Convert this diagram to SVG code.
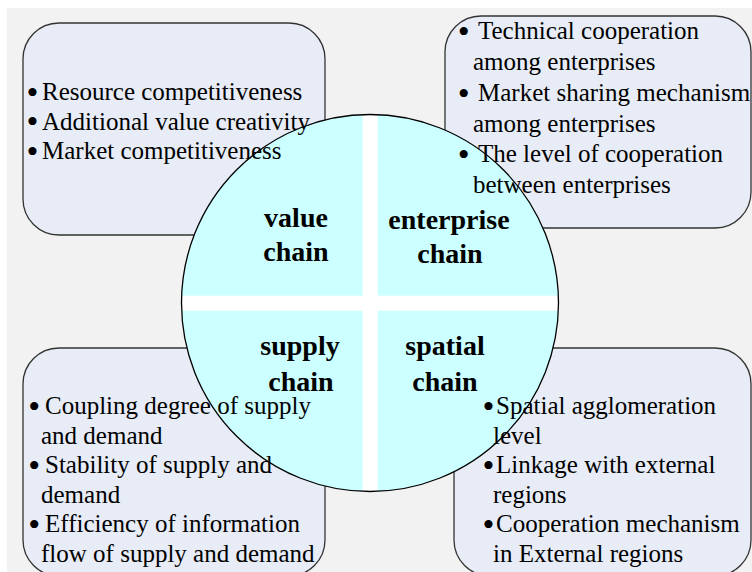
<svg xmlns="http://www.w3.org/2000/svg" width="752" height="572" viewBox="0 0 752 572">
<style>
.box{fill:#e7ecf6;stroke:#333;stroke-width:1.3}
.t{font-family:"Liberation Serif","Times New Roman",serif;font-size:25px;fill:#000}
.bl{font-size:34px}
.lbl{font-family:"Liberation Serif","Times New Roman",serif;font-size:28px;font-weight:bold;fill:#000;text-anchor:middle}
</style>
<defs>
<clipPath id="cc"><circle cx="370" cy="303" r="188.5"/></clipPath>
</defs>
<rect x="0" y="0" width="752" height="572" fill="#ffffff"/>
<rect x="7" y="8" width="745" height="564" fill="#f2f2f2"/>

<g id="box-value-shape"><rect class="box" x="23" y="23" width="302" height="212" rx="36"/></g>
<g id="box-enterprise-shape"><rect class="box" x="445" y="16" width="306" height="212" rx="36"/></g>
<g id="box-supply-shape"><rect class="box" x="23" y="348" width="302" height="228" rx="36"/></g>
<g id="box-spatial-shape"><rect class="box" x="454" y="348" width="297" height="228" rx="36"/></g>

<g id="circle">
<circle cx="370" cy="303" r="188.5" fill="#ccffff"/>
<g clip-path="url(#cc)" fill="#ffffff">
<rect x="170" y="295.7" width="400" height="15"/>
<rect x="362.7" y="100" width="15" height="410"/>
</g>
<circle cx="370" cy="303" r="188.5" fill="none" stroke="#000" stroke-width="1.3"/>
</g>

<g id="connectors"/>

<g id="node-value">
<text class="lbl" x="296" y="227">value</text>
<text class="lbl" x="296" y="261">chain</text>
<text class="t" x="26.5" y="100"><tspan class="bl" dy="3.5">•</tspan><tspan x="42" dy="-3.5">Resource competitiveness</tspan></text>
<text class="t" x="26.5" y="129.5"><tspan class="bl" dy="3.5">•</tspan><tspan x="42" dy="-3.5">Additional value creativity</tspan></text>
<text class="t" x="26.5" y="159"><tspan class="bl" dy="3.5">•</tspan><tspan x="42" dy="-3.5">Market competitiveness</tspan></text>
</g>

<g id="node-enterprise">
<text class="lbl" x="449" y="229">enterprise</text>
<text class="lbl" x="450" y="263">chain</text>
<text class="t" x="457.7" y="39"><tspan class="bl" dy="3.5">•</tspan><tspan x="478" dy="-3.5">Technical cooperation</tspan></text>
<text class="t" x="473" y="70">among enterprises</text>
<text class="t" x="457.7" y="101"><tspan class="bl" dy="3.5">•</tspan><tspan x="478" dy="-3.5">Market sharing mechanism</tspan></text>
<text class="t" x="473" y="131.5">among enterprises</text>
<text class="t" x="457.7" y="162"><tspan class="bl" dy="3.5">•</tspan><tspan x="478" dy="-3.5">The level of cooperation</tspan></text>
<text class="t" x="473" y="193">between enterprises</text>
</g>

<g id="node-supply">
<text class="lbl" x="300" y="355">supply</text>
<text class="lbl" x="301" y="391">chain</text>
<text class="t" x="28.2" y="414"><tspan class="bl" dy="3.5">•</tspan><tspan x="45" dy="-3.5">Coupling degree of supply</tspan></text>
<text class="t" x="41" y="443.5">and demand</text>
<text class="t" x="28.2" y="473"><tspan class="bl" dy="3.5">•</tspan><tspan x="45" dy="-3.5">Stability of supply and</tspan></text>
<text class="t" x="41" y="502.5">demand</text>
<text class="t" x="28.2" y="532"><tspan class="bl" dy="3.5">•</tspan><tspan x="45" dy="-3.5">Efficiency of information</tspan></text>
<text class="t" x="41" y="561.5">flow of supply and demand</text>
</g>

<g id="node-spatial">
<text class="lbl" x="445" y="355">spatial</text>
<text class="lbl" x="445" y="391">chain</text>
<text class="t" x="482.4" y="414"><tspan class="bl" dy="3.5">•</tspan><tspan x="496" dy="-3.5">Spatial agglomeration</tspan></text>
<text class="t" x="493" y="443.5">level</text>
<text class="t" x="482.4" y="473"><tspan class="bl" dy="3.5">•</tspan><tspan x="496" dy="-3.5">Linkage with external</tspan></text>
<text class="t" x="493" y="502.5">regions</text>
<text class="t" x="482.4" y="532"><tspan class="bl" dy="3.5">•</tspan><tspan x="496" dy="-3.5">Cooperation mechanism</tspan></text>
<text class="t" x="493" y="561.5">in External regions</text>
</g>
</svg>
